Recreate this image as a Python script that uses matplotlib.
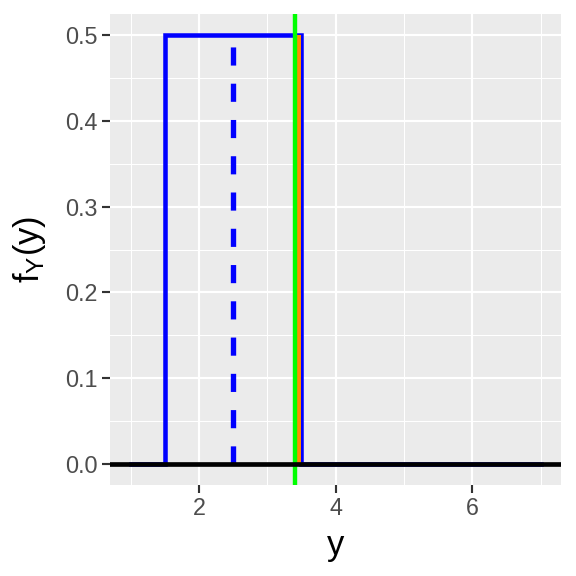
import matplotlib
matplotlib.use("Agg")
import matplotlib.pyplot as plt
import numpy as np

# Data
x_density = [1.0, 1.5, 1.5, 3.5, 3.5, 7.0]
y_density = [0.0, 0.0, 0.5, 0.5, 0.0, 0.0]
mean_y = 2.5
density_height = 0.5
observed_y = 3.4
upper_support = 3.5
x_ticks = [2, 4, 6]
x_minor = [1, 3, 5, 7]
y_ticks = [0.0, 0.1, 0.2, 0.3, 0.4, 0.5]
y_minor = [0.05, 0.15, 0.25, 0.35, 0.45]

plt.rcParams['font.family'] = ['Liberation Sans', 'DejaVu Sans']
plt.rcParams['mathtext.fontset'] = 'custom'
plt.rcParams['mathtext.rm'] = 'Liberation Sans'
plt.rcParams['mathtext.it'] = 'Liberation Sans'

fig = plt.figure(figsize=(6, 6), dpi=96)
ax = fig.add_axes([110/576, 91/576, 451/576, 471/576])
ax.set_facecolor('#EBEBEB')
for s in ax.spines.values():
    s.set_visible(False)

ax.set_xlim(0.7, 7.3)
ax.set_ylim(-0.025, 0.525)
ax.set_xticks(x_ticks)
ax.set_xticks(x_minor, minor=True)
ax.set_yticks(y_ticks)
ax.set_yticks(y_minor, minor=True)
ax.set_yticklabels([f"{v:.1f}" for v in y_ticks])
ax.grid(which='major', color='white', lw=1.6)
ax.grid(which='minor', color='white', lw=0.8)
ax.set_axisbelow(True)
ax.tick_params(which='major', length=6, width=1.6, color='#333333',
               labelsize=17.5, labelcolor='#4D4D4D', pad=3)
ax.tick_params(which='minor', length=0)

ax.plot(x_density, y_density, color='blue', lw=3.4, solid_joinstyle='miter', zorder=3)
ax.plot([mean_y, mean_y], [0, density_height], color='blue', lw=4.0,
        dashes=(3.4, 3.4), zorder=3)
ax.fill_between([observed_y, upper_support], 0, density_height, color='#FF8C00',
                lw=0, zorder=4)
ax.axvline(observed_y, color='#00FF00', lw=3.3, zorder=5)
ax.axhline(0, color='black', lw=3.5, zorder=6)

ax.set_xlabel('y', fontsize=26, labelpad=7)
ax.set_ylabel(r'$\mathrm{f_Y(y)}$', fontsize=26, labelpad=13)

fig.savefig('out.png', dpi=96)
